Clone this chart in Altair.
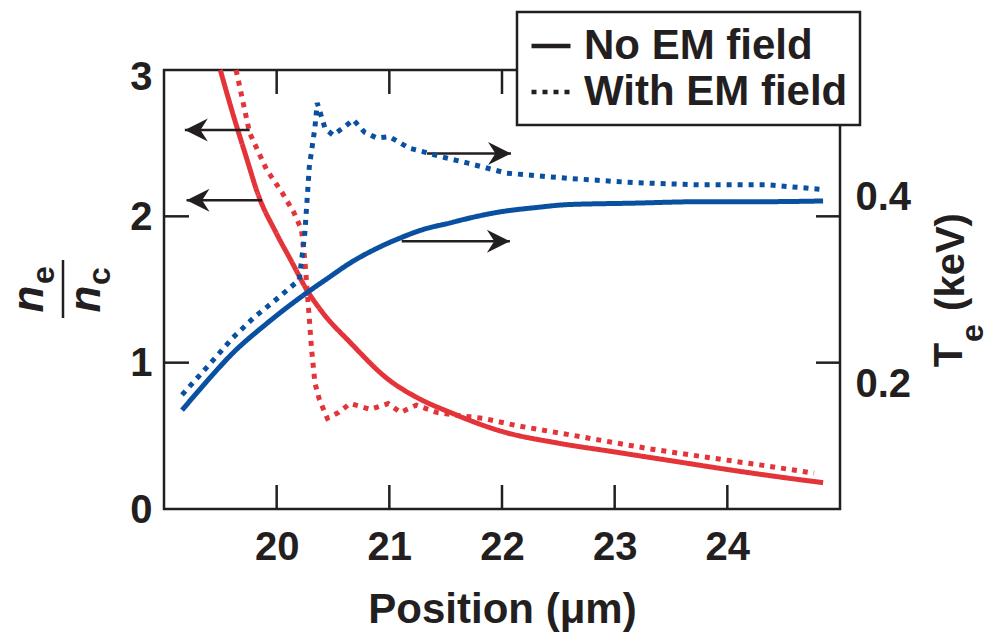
import altair as alt
import pandas as pd

# ---------------- data ----------------
conditions = ["No EM field", "With EM field"]

pos_ne_noem = [19.50, 19.60, 19.74, 19.83, 20.00, 20.14, 20.25, 20.40, 20.65, 21.00,
               21.25, 21.54, 22.00, 22.50, 23.00, 23.50, 24.00, 24.50, 24.85]
ne_noem = [3.00, 2.73, 2.38, 2.16, 1.88, 1.68, 1.52, 1.35, 1.14, 0.88,
           0.76, 0.66, 0.53, 0.45, 0.39, 0.33, 0.27, 0.215, 0.18]

pos_ne_em = [19.64, 19.76, 19.91, 20.05, 20.15, 20.22, 20.25, 20.28, 20.31, 20.34,
             20.38, 20.45, 20.55, 20.65, 20.75, 20.83, 20.99, 21.10, 21.24, 21.42,
             21.60, 21.83, 22.13, 22.58, 23.02, 23.32, 23.76, 24.30, 24.77]
ne_em = [3.00, 2.57, 2.32, 2.16, 2.03, 1.91, 1.70, 1.40, 1.09, 0.86,
         0.745, 0.62, 0.66, 0.72, 0.70, 0.68, 0.72, 0.66, 0.71, 0.66,
         0.64, 0.62, 0.57, 0.51, 0.45, 0.41, 0.36, 0.30, 0.245]

pos_te_noem = [19.16, 19.40, 19.61, 19.90, 20.20, 20.45, 20.65, 20.90, 21.09, 21.30,
               21.54, 21.75, 21.98, 22.30, 22.58, 23.17, 23.76, 24.30, 24.85]
te_noem = [0.135, 0.178, 0.213, 0.252, 0.288, 0.315, 0.336, 0.357, 0.370, 0.382,
           0.391, 0.399, 0.406, 0.412, 0.416, 0.418, 0.420, 0.420, 0.421]

pos_te_em = [19.16, 19.40, 19.61, 19.80, 19.97, 20.10, 20.20, 20.25, 20.29, 20.34,
             20.36, 20.43, 20.50, 20.60, 20.68, 20.78, 20.89, 21.00, 21.18, 21.33,
             21.50, 21.69, 22.04, 22.58, 23.17, 23.76, 24.36, 24.83]
te_em = [0.156, 0.197, 0.234, 0.262, 0.283, 0.300, 0.313, 0.377, 0.468, 0.522,
         0.555, 0.520, 0.511, 0.522, 0.532, 0.515, 0.507, 0.509, 0.493, 0.487,
         0.480, 0.473, 0.459, 0.452, 0.446, 0.443, 0.443, 0.437]

x_ticks = [20, 21, 22, 23, 24]
left_ticks = [0, 1, 2, 3]
left_inner_ticks = [1, 2]
right_ticks = [0.2, 0.4]

arrow_level = [2.59, 2.11, 2.43, 1.83]
arrow_tail = [19.76, 19.87, 21.335, 21.11]
arrow_tip = [19.185, 19.20, 22.08, 22.07]

# ---------------- tables ----------------
def series(pos, val, cond):
    return pd.DataFrame({"pos": pos, "val": val, "cond": cond, "i": range(len(pos))})

ne_df = pd.concat([series(pos_ne_noem, ne_noem, conditions[0]),
                   series(pos_ne_em, ne_em, conditions[1])])
te_df = pd.concat([series(pos_te_noem, te_noem, conditions[0]),
                   series(pos_te_em, te_em, conditions[1])])
xt_df = pd.DataFrame({"pos": x_ticks})
lt_df = pd.DataFrame({"val": left_inner_ticks})
rt_df = pd.DataFrame({"val": right_ticks})
arrow_df = pd.DataFrame({"pos": arrow_tail, "tip": arrow_tip, "val": arrow_level})
dummy = pd.DataFrame({"k": [0]})

# ---------------- styling ----------------
W, H = 676, 439
FONT = "Liberation Sans"
INK = "#231f20"
RED = "#e3343a"
BLUE = "#0a50a1"
TICK = 24

xscale = alt.Scale(domain=[19, 25], nice=False, zero=False)
lscale = alt.Scale(domain=[0, 3], nice=False)
rscale = alt.Scale(domain=[0, 0.6], nice=False)

X_AXIS = alt.Axis(values=x_ticks, ticks=False, domain=False, grid=False, labelPadding=18,
                  title="Position (μm)", titlePadding=22, format="d")
L_AXIS = alt.Axis(values=left_ticks, ticks=False, domain=False, grid=False, labelPadding=12,
                  title=None, format="d",
                  labelOffset={"condition": {"test": "datum.value == 3", "value": 7}, "value": 1})
R_AXIS = alt.Axis(orient="right", values=right_ticks, ticks=False, domain=False, grid=False,
                  labelPadding=15, title=None, format=".1f",
                  labelOffset={"condition": {"test": "datum.value > 0.3", "value": -19}, "value": 22})

dash_scale = alt.Scale(domain=conditions, range=[[1, 0], [5, 6]])
LEGEND = alt.Legend(title=None, orient="none", legendX=353, legendY=-58, direction="vertical",
                    fillColor="white", strokeColor=INK, padding=12,
                    symbolType="stroke", symbolSize=1521, symbolStrokeWidth=4.5,
                    symbolStrokeColor=INK, labelFont=FONT, labelFontWeight="bold",
                    labelFontSize=42, labelColor=INK, labelOffset=11, rowPadding=3,
                    labelLimit=0)

RIGHT_DART = "M0,0 L-1,-0.5 L-0.68,0 L-1,0.5 Z"
LEFT_DART = "M0,0 L1,-0.5 L0.68,0 L1,0.5 Z"


def curves(df, yscale, yaxis, color):
    """Solid (no field) curve is smooth, dotted (with field) keeps its kinks."""
    enc = dict(
        x=alt.X("pos:Q", scale=xscale, axis=X_AXIS),
        y=alt.Y("val:Q", scale=yscale, axis=yaxis),
        strokeDash=alt.StrokeDash("cond:N", scale=dash_scale, legend=LEGEND),
        order=alt.Order("i:Q"),
    )
    solid = alt.Chart(df).transform_filter(alt.datum.cond == conditions[0]).mark_line(
        strokeWidth=5, strokeCap="butt", color=color, interpolate="monotone").encode(**enc)
    dotted = alt.Chart(df).transform_filter(alt.datum.cond == conditions[1]).mark_line(
        strokeWidth=5, strokeCap="butt", color=color).encode(**enc)
    return [solid, dotted]


# ---------------- left (n_e / n_c) group ----------------
bottom_ticks = alt.Chart(xt_df).mark_rule(color=INK, strokeWidth=2.5).encode(
    x=alt.X("pos:Q", scale=xscale, axis=X_AXIS), y=alt.value(H), y2=alt.value(H - TICK))
top_ticks = alt.Chart(xt_df).mark_rule(color=INK, strokeWidth=2.5).encode(
    x=alt.X("pos:Q", scale=xscale, axis=X_AXIS), y=alt.value(0), y2=alt.value(TICK))
left_tick_marks = alt.Chart(lt_df).mark_rule(color=INK, strokeWidth=2.5).encode(
    y=alt.Y("val:Q", scale=lscale, axis=L_AXIS), x=alt.value(0), x2=alt.value(TICK + 1))

arrow_lines = alt.Chart(arrow_df).mark_rule(color=INK, strokeWidth=2.5).encode(
    x=alt.X("pos:Q", scale=xscale, axis=X_AXIS), x2="tip:Q",
    y=alt.Y("val:Q", scale=lscale, axis=L_AXIS))
heads_left = alt.Chart(arrow_df).transform_filter("datum.tip < datum.pos").mark_point(
    shape=LEFT_DART, filled=True, size=2116, color=INK, opacity=1, strokeWidth=0).encode(
    x=alt.X("tip:Q", scale=xscale, axis=X_AXIS), y=alt.Y("val:Q", scale=lscale, axis=L_AXIS))
heads_right = alt.Chart(arrow_df).transform_filter("datum.tip > datum.pos").mark_point(
    shape=RIGHT_DART, filled=True, size=2116, color=INK, opacity=1, strokeWidth=0).encode(
    x=alt.X("tip:Q", scale=xscale, axis=X_AXIS), y=alt.Y("val:Q", scale=lscale, axis=L_AXIS))

left = alt.layer(*curves(ne_df, lscale, L_AXIS, RED), bottom_ticks, top_ticks,
                 left_tick_marks, arrow_lines, heads_left, heads_right)

# ---------------- right (T_e) group ----------------
right_tick_marks = alt.Chart(rt_df).mark_rule(color=INK, strokeWidth=2.5).encode(
    y=alt.Y("val:Q", scale=rscale, axis=R_AXIS), x=alt.value(W), x2=alt.value(W - TICK))

right = alt.layer(*curves(te_df, rscale, R_AXIS, BLUE), right_tick_marks)

# ---------------- axis-title glyphs ----------------
def glyph(txt, x, y, size, style="normal"):
    return alt.Chart(dummy).mark_text(
        text=txt, angle=270, font=FONT, fontSize=size, fontWeight="bold", fontStyle=style,
        color=INK, align="center", baseline="middle").encode(x=alt.value(x), y=alt.value(y))

frac_bar = alt.Chart(dummy).mark_rule(color=INK, strokeWidth=2.5).encode(
    x=alt.value(-101), y=alt.value(190), y2=alt.value(248))

titles = [
    glyph("n", -134, 229, 44, "italic"),
    glyph("e", -120, 205, 32),
    frac_bar,
    glyph("n", -77, 229, 44, "italic"),
    glyph("c", -64, 206, 32),
    glyph("T", 786, 285, 40),
    glyph("e", 809, 263, 32),
    glyph("(keV)", 788, 192, 40),
]

chart = alt.layer(left, right, *titles).resolve_scale(y="independent").properties(
    width=W, height=H,
    padding={"left": 164, "top": 70, "right": 154, "bottom": 128},
    autosize=alt.AutoSizeParams(type="none"),
).configure_view(stroke=INK, strokeWidth=2.5).configure_axis(
    labelFont=FONT, labelFontWeight="bold", labelFontSize=40, labelColor=INK,
    titleFont=FONT, titleFontWeight="bold", titleFontSize=42, titleColor=INK,
).configure_legend(strokeWidth=2.5)

chart.save("out.html", embed_options={"renderer": "svg", "actions": False})
